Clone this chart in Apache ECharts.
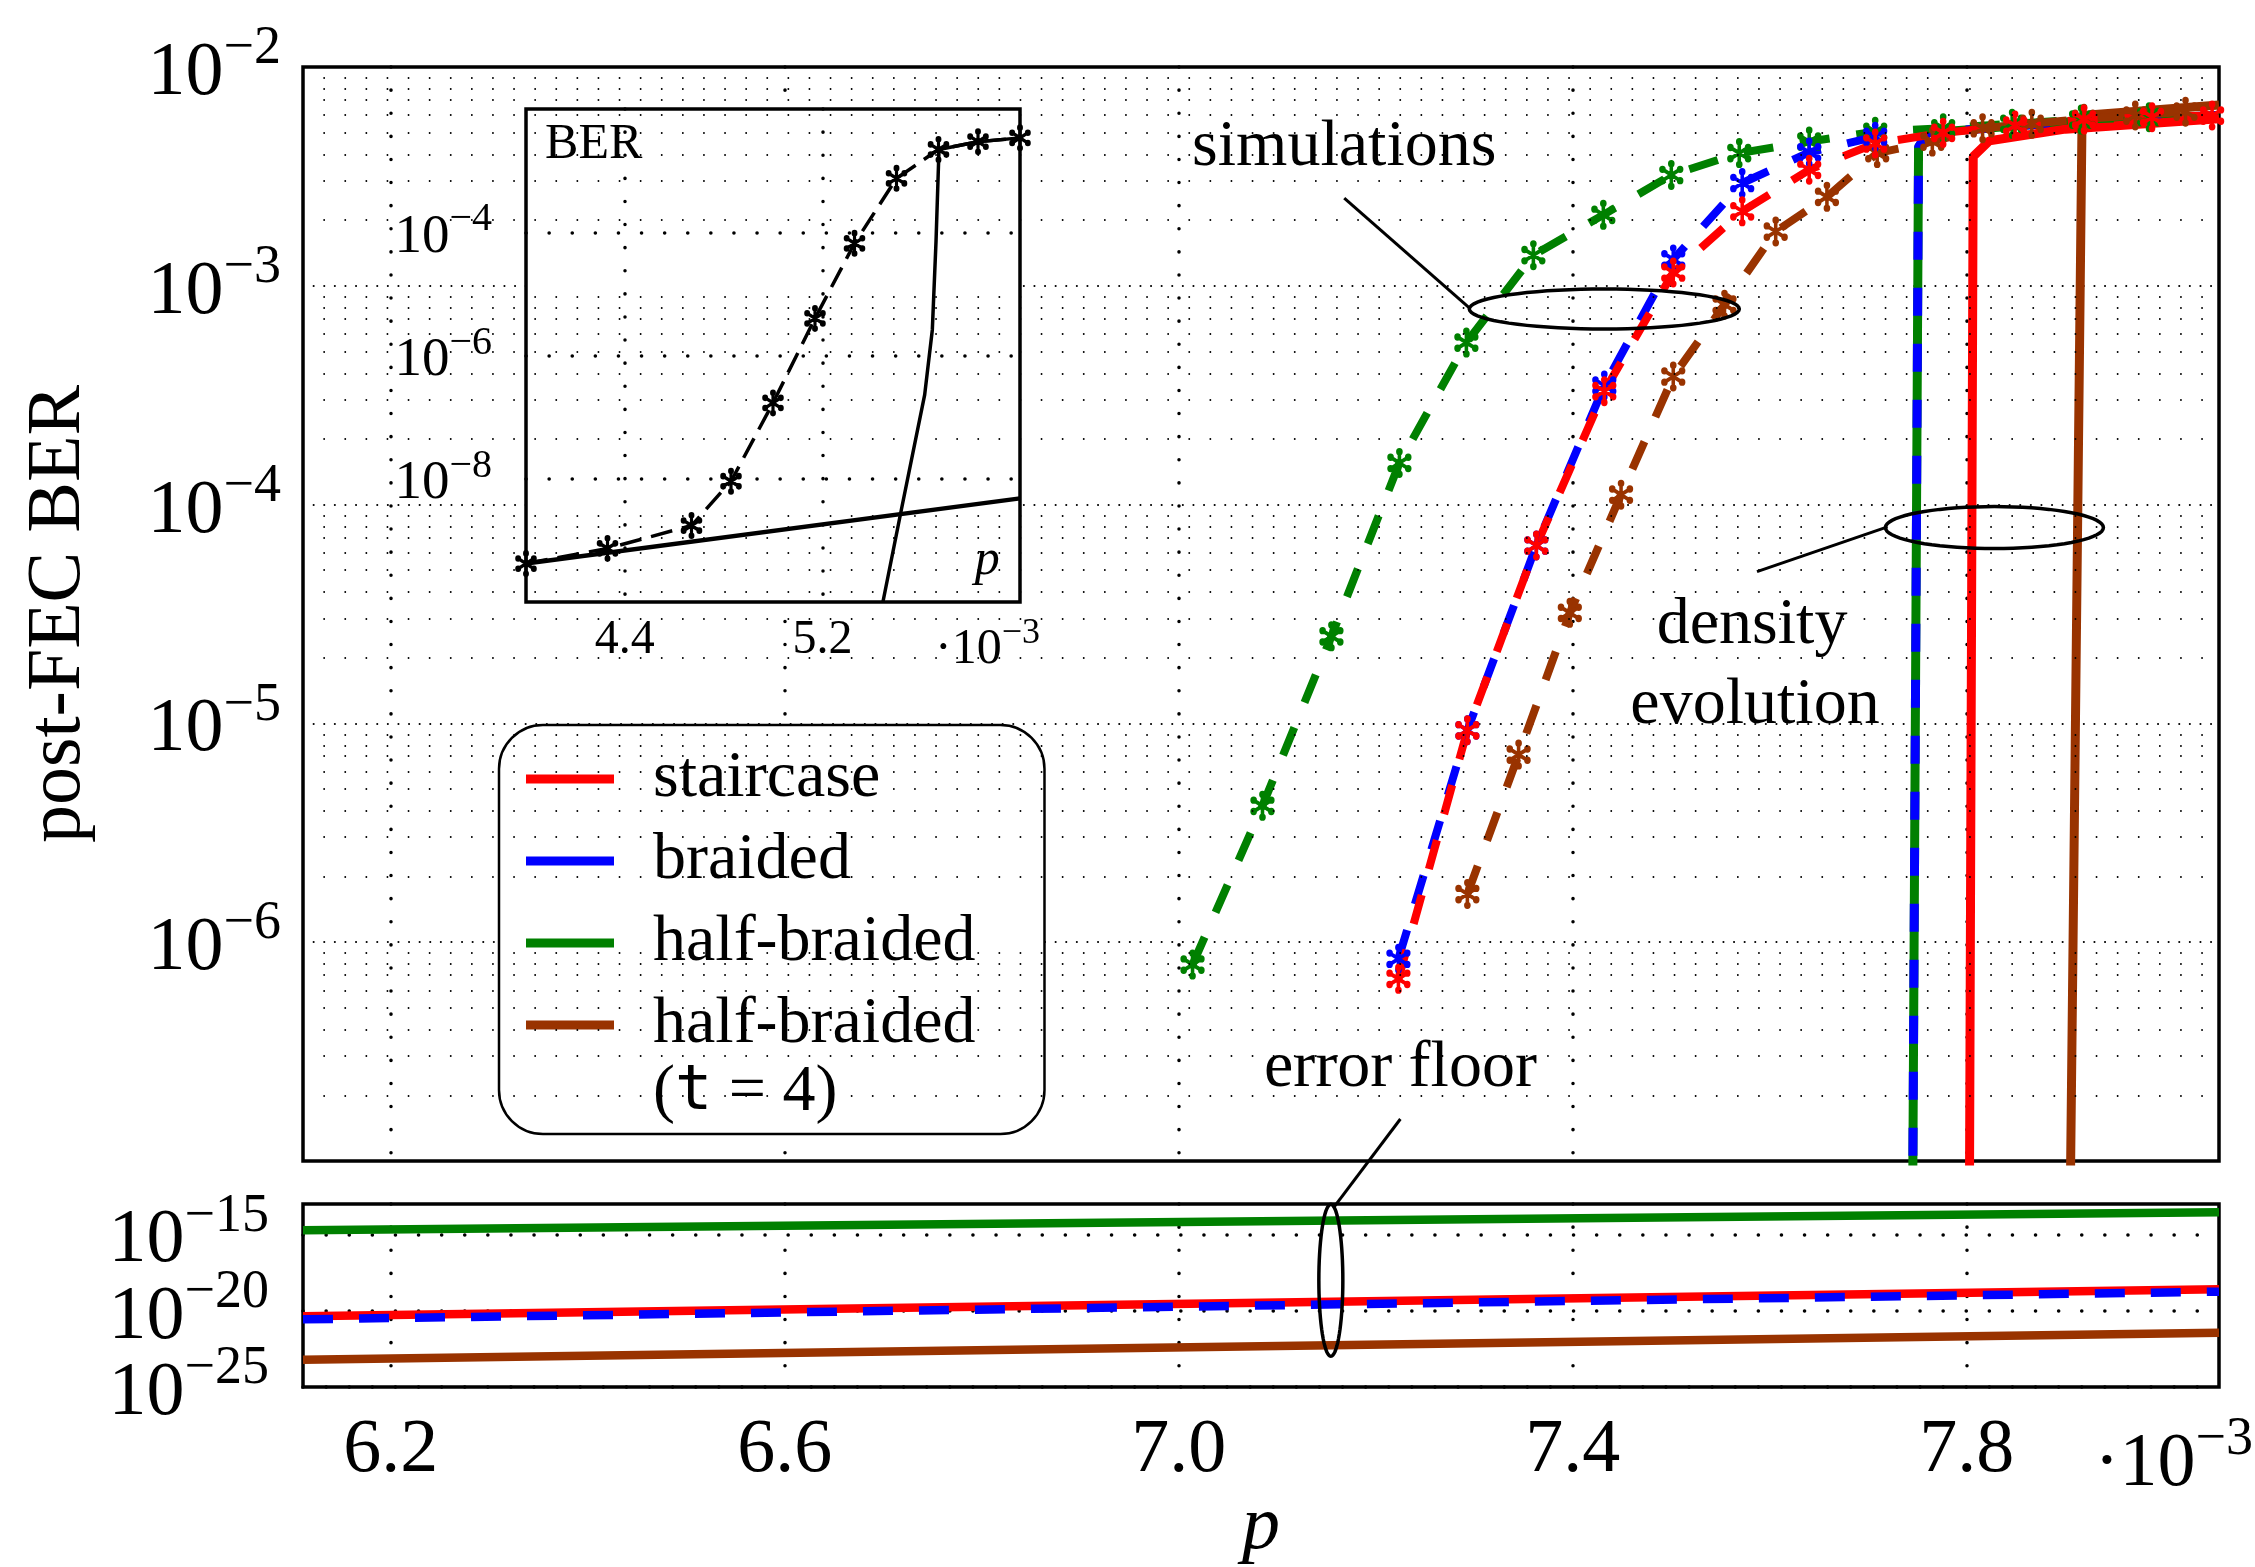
<!DOCTYPE html>
<html>
<head>
<meta charset="utf-8">
<script src="https://cdn.jsdelivr.net/npm/echarts@6.0.0/dist/echarts.min.js"></script>
<style>
  html, body { margin: 0; padding: 0; background: #fff; }
  #chart { width: 2255px; height: 1567px; }
</style>
</head>
<body>
<div id="chart"></div>
<script>
const halfSimP = [7.014, 7.085, 7.155, 7.224, 7.292, 7.360, 7.431, 7.500, 7.569, 7.640, 7.707, 7.776, 7.846, 7.916, 7.985]
const halfSimBer = [7.9e-7, 4.2e-6, 2.5e-5, 1.55e-4, 5.5e-4, 1.38e-3, 2.11e-3, 3.21e-3, 4.04e-3, 4.56e-3, 5.06e-3, 5.25e-3, 5.5e-3, 5.75e-3, 5.9e-3]

const stairSimP = [7.223, 7.293, 7.363, 7.432, 7.502, 7.572, 7.640, 7.707, 7.776, 7.849, 7.919, 7.988, 8.049]
const stairSimBer = [6.8e-7, 9.3e-6, 6.5e-5, 3.3e-4, 1.15e-3, 2.19e-3, 3.39e-3, 4.47e-3, 5.0e-3, 5.4e-3, 5.75e-3, 5.9e-3, 6.0e-3]

const braidSimP = [7.223, 7.293, 7.363, 7.432, 7.502, 7.572, 7.640, 7.707]
const braidSimBer = [8.4e-7, 9.3e-6, 6.5e-5, 3.5e-4, 1.32e-3, 2.95e-3, 4.07e-3, 4.8e-3]

const halfT4SimP = [7.293, 7.345, 7.397, 7.449, 7.502, 7.554, 7.606, 7.658, 7.709, 7.765, 7.816, 7.866, 7.919, 7.971, 8.022]
const halfT4SimBer = [1.66e-6, 7.2e-6, 3.2e-5, 1.11e-4, 3.85e-4, 8.2e-4, 1.77e-3, 2.55e-3, 4.04e-3, 4.56e-3, 5.25e-3, 5.5e-3, 5.8e-3, 6.0e-3, 6.25e-3]

// density evolution (first point sits below the axis and gets clipped)
const halfDeP = [7.744, 7.751, 7.760, 7.900, 8.056]
const halfDeBer = [1e-8, 4.3e-3, 5.0e-3, 5.6e-3, 6.0e-3]
const braidDeP = [7.744, 7.751, 7.760, 7.900, 8.056]
const braidDeBer = [1e-8, 4.3e-3, 5.0e-3, 5.6e-3, 6.0e-3]
const stairDeP = [7.802, 7.8065, 7.823, 7.900, 8.056]
const stairDeBer = [1e-8, 3.9e-3, 4.6e-3, 5.2e-3, 5.8e-3]
const halfT4DeP = [7.903, 7.917, 8.056]
const halfT4DeBer = [1e-8, 6.0e-3, 6.7e-3]

// error floor (lower panel)
const floorP = [6.111, 8.056]
const halfFloorBer = [1.9e-15, 2.9e-14]
const stairFloorBer = [4.4e-21, 2.6e-19]
const braidFloorBer = [2.75e-21, 1.8e-19]
const halfT4FloorBer = [6.2e-24, 3.6e-22]

// inset
const insetSimP = [4.0, 4.33, 4.67, 4.83, 5.0, 5.17, 5.33, 5.5, 5.67, 5.83, 6.0]
const insetSimBer = [4.2e-10, 7.4e-10, 1.74e-9, 9.1e-9, 1.7e-7, 4.0e-6, 6.6e-5, 7.5e-4, 2.2e-3, 2.95e-3, 3.4e-3]
const insetDeP = [5.445, 5.52, 5.614, 5.645, 5.66, 5.672, 5.83, 6.0]
const insetDeBer = [1e-10, 3.2e-9, 2.3e-7, 2.6e-6, 7.1e-5, 2.2e-3, 2.95e-3, 3.4e-3]
const insetFloorP = [4.0, 6.0]
const insetFloorBer = [4.2e-10, 4.8e-9]

// ticks (y ticks are decades)
const mainXTicks = [6.2, 6.6, 7.0, 7.4, 7.8]
const floorYTicks = [-25, -20, -15]
const insetXTicks = [4.4, 5.2]
const insetYTicks = [-8, -6, -4]

const RED = '#ff0000', BLUE = '#0000ff', GREEN = '#008000', BROWN = '#993300'
const SERIF = 'Liberation Serif, DejaVu Serif, serif'

// asterisk marker like the pgf '*' mark
function asteriskPath() {
  let d = ''
  const L = 8, w = 1.4, r = 2.6
  for (let k = 0; k < 3; k++) {
    const a = k * Math.PI / 3, c = Math.cos(a), s = Math.sin(a)
    const pts = [[-w, -L], [w, -L], [w, L], [-w, L]].map(([x, y]) => [x * c - y * s, x * s + y * c])
    d += 'M' + pts.map(p => p[0].toFixed(3) + ' ' + p[1].toFixed(3)).join(' L') + ' Z '
    for (const sg of [-1, 1]) {
      const cx = -sg * L * s, cy = sg * L * c
      d += `M${(cx - r).toFixed(3)} ${cy.toFixed(3)} A${r} ${r} 0 1 1 ${(cx + r).toFixed(3)} ${cy.toFixed(3)} A${r} ${r} 0 1 1 ${(cx - r).toFixed(3)} ${cy.toFixed(3)} Z `
    }
  }
  return 'path://' + d
}
const STAR = asteriskPath()

const toPairs = (xs, bers) => xs.map((x, i) => [x, Math.log10(bers[i])])

const bigDots = { color: '#000', width: 3.5, type: [0.1, 23], cap: 'round' }
const fineDots = { color: '#000', width: 2, type: [0.1, 10.5], cap: 'round' }
const minorDots = { color: '#000', width: 1.8, type: [0.1, 21], cap: 'round' }

// minor log grid lines of the main panel
const minorY = []
for (let d = -7; d < -2; d++) {
  for (let k = 2; k <= 9; k++) minorY.push({ yAxis: d + Math.log10(k) })
}

const expRich = (big, small, lift) => ({
  b: { fontSize: big, fontFamily: SERIF, color: '#000', fill: '#000', padding: [lift, 0, 0, 0], verticalAlign: 'bottom' },
  e: { fontSize: small, fontFamily: SERIF, color: '#000', fill: '#000', verticalAlign: 'top' }
})
const expLabel = v => '{b|10}{e|\u2212' + Math.round(-v) + '}'

function sim(name, xs, ys, color) {
  return {
    name, type: 'line', xAxisIndex: 0, yAxisIndex: 0, data: toPairs(xs, ys),
    color, symbol: STAR, symbolSize: [27, 30], symbolKeepAspect: true,
    itemStyle: { color }, lineStyle: { color, width: 8, type: [30, 27] },
    z: 3, silent: true, animation: false
  }
}
function solid(name, xs, ys, color, grid, dash, width) {
  return {
    name, type: 'line', xAxisIndex: grid, yAxisIndex: grid, data: toPairs(xs, ys),
    color, showSymbol: false, symbol: 'none',
    lineStyle: { color, width: width || 9, type: dash || 'solid' },
    z: 2, silent: true, animation: false
  }
}

const chart = echarts.init(document.getElementById('chart'), null, { renderer: 'canvas' })

const option = {
  backgroundColor: '#fff',
  animation: false,
  grid: [
    { left: 303, top: 67, width: 1916, height: 1094, show: true, borderColor: '#000', borderWidth: 3.5, backgroundColor: 'transparent' },
    { left: 303, top: 1204, width: 1916, height: 192, show: true, borderColor: '#000', borderWidth: 3.5, backgroundColor: 'transparent' },
    { left: 526, top: 109, width: 494, height: 493, show: true, borderColor: '#000', borderWidth: 3.5, backgroundColor: '#fff', z: 5 }
  ],
  xAxis: [
    {
      gridIndex: 0, type: 'value', min: 6.111, max: 8.056,
      axisLine: { show: false }, axisTick: { show: false, customValues: mainXTicks },
      axisLabel: { show: false, customValues: mainXTicks },
      splitLine: { show: true, lineStyle: bigDots }
    },
    {
      gridIndex: 1, type: 'value', min: 6.111, max: 8.056,
      axisLine: { show: false }, axisTick: { show: false, customValues: mainXTicks },
      axisLabel: {
        customValues: mainXTicks, formatter: v => v.toFixed(1),
        fontSize: 76, fontFamily: SERIF, color: '#000', margin: 26
      },
      splitLine: { show: true, lineStyle: bigDots },
      name: 'p', nameLocation: 'middle', nameGap: 85,
      nameTextStyle: { fontSize: 76, fontFamily: SERIF, fontStyle: 'italic', color: '#000' }
    },
    {
      gridIndex: 2, type: 'value', min: 4, max: 6, z: 8,
      axisLine: { show: false }, axisTick: { show: false, customValues: insetXTicks },
      axisLabel: {
        customValues: insetXTicks, formatter: v => v.toFixed(1),
        fontSize: 48, fontFamily: SERIF, color: '#000', margin: 14
      },
      splitLine: { show: true, lineStyle: bigDots }
    }
  ],
  yAxis: [
    {
      gridIndex: 0, type: 'value', min: -7, max: -2, interval: 1,
      axisLine: { show: false }, axisTick: { show: false },
      axisLabel: { formatter: v => (v <= -7 ? '' : expLabel(v)), margin: 22, rich: expRich(76, 54, 14) },
      splitLine: { show: true, lineStyle: fineDots },
      name: 'post-FEC BER', nameLocation: 'middle', nameGap: 206,
      nameTextStyle: { fontSize: 76, fontFamily: SERIF, color: '#000' }
    },
    {
      // labels of this crowded axis are drawn below as graphic texts
      gridIndex: 1, type: 'value', min: -25, max: -13,
      axisLine: { show: false }, axisTick: { show: false, customValues: floorYTicks },
      axisLabel: { show: false, customValues: floorYTicks },
      splitLine: { show: true, lineStyle: bigDots }
    },
    {
      gridIndex: 2, type: 'value', min: -10, max: -2, z: 8,
      axisLine: { show: false }, axisTick: { show: false, customValues: insetYTicks },
      axisLabel: {
        customValues: insetYTicks, formatter: expLabel, margin: 34, rich: expRich(55, 40, 10),
        showMinLabel: true, showMaxLabel: true
      },
      splitLine: { show: true, lineStyle: bigDots }
    }
  ],
  legend: {
    orient: 'vertical', left: 499, top: 725, padding: [19, 69, 74, 27],
    itemWidth: 88, itemHeight: 9, itemGap: 12, icon: 'rect',
    backgroundColor: '#fff', borderColor: '#000', borderWidth: 2.5, borderRadius: 44,
    selectedMode: false,
    textStyle: { fontSize: 66, fontFamily: SERIF, color: '#000', lineHeight: 70, padding: [0, 0, 0, 34] },
    data: [
      { name: 'staircase', itemStyle: { color: RED, borderWidth: 0 } },
      { name: 'braided', itemStyle: { color: BLUE, borderWidth: 0 } },
      { name: 'half-braided', itemStyle: { color: GREEN, borderWidth: 0 } },
      { name: 'half-braided (t=4)', itemStyle: { color: BROWN, borderWidth: 0 } }
    ],
    formatter: n => (n === 'half-braided (t=4)' ? 'half-braided' : n)
  },
  series: [
    // main panel: grid dots for the minor decades
    {
      name: 'minor grid', type: 'line', xAxisIndex: 0, yAxisIndex: 0, data: [], silent: true,
      markLine: { silent: true, symbol: ['none', 'none'], label: { show: false }, lineStyle: minorDots, data: minorY, animation: false }
    },
    // density evolution
    solid('half-braided', halfDeP, halfDeBer, GREEN, 0),
    solid('braided', braidDeP, braidDeBer, BLUE, 0, [28, 28]),
    solid('staircase', stairDeP, stairDeBer, RED, 0),
    solid('half-braided (t=4)', halfT4DeP, halfT4DeBer, BROWN, 0),
    // simulations
    sim('half-braided', halfSimP, halfSimBer, GREEN),
    sim('half-braided (t=4)', halfT4SimP, halfT4SimBer, BROWN),
    sim('braided', braidSimP, braidSimBer, BLUE),
    sim('staircase', stairSimP, stairSimBer, RED),
    // error floor
    solid('half-braided', floorP, halfFloorBer, GREEN, 1, null, 8.5),
    solid('staircase', floorP, stairFloorBer, RED, 1, null, 8.5),
    solid('braided', floorP, braidFloorBer, BLUE, 1, [30, 26], 8.5),
    solid('half-braided (t=4)', floorP, halfT4FloorBer, BROWN, 1, null, 8.5),
    // inset
    {
      name: 'inset floor', type: 'line', xAxisIndex: 2, yAxisIndex: 2, data: toPairs(insetFloorP, insetFloorBer),
      showSymbol: false, symbol: 'none', lineStyle: { color: '#000', width: 4.5 }, z: 10, silent: true
    },
    {
      name: 'inset DE', type: 'line', xAxisIndex: 2, yAxisIndex: 2, data: toPairs(insetDeP, insetDeBer),
      showSymbol: false, symbol: 'none', lineStyle: { color: '#000', width: 3.5 }, z: 10, silent: true
    },
    {
      name: 'inset sim', type: 'line', xAxisIndex: 2, yAxisIndex: 2, data: toPairs(insetSimP, insetSimBer),
      symbol: STAR, symbolSize: [24, 27], symbolKeepAspect: true, itemStyle: { color: '#000' },
      lineStyle: { color: '#000', width: 3.5, type: [22, 10] }, z: 11, silent: true
    }
  ]
}
chart.setOption(option)

// annotations, anchored in data coordinates of the panels
const px = (g, x, y) => chart.convertToPixel({ gridIndex: g }, [x, y])

function ellipse(g, x, y, rx, ry) {
  const c = px(g, x, y)
  const pts = []
  for (let i = 0; i <= 72; i++) {
    const t = i / 72 * Math.PI * 2
    pts.push([c[0] + rx * Math.cos(t), c[1] + ry * Math.sin(t)])
  }
  return { type: 'polygon', z: 20, silent: true, shape: { points: pts }, style: { fill: 'none', stroke: '#000', lineWidth: 3.5 } }
}
function leader(a, b) {
  return { type: 'line', z: 20, silent: true, shape: { x1: a[0], y1: a[1], x2: b[0], y2: b[1] }, style: { stroke: '#000', lineWidth: 3 } }
}
function label(p, text, size, extra) {
  return {
    type: 'text', z: 20, silent: true, x: p[0], y: p[1],
    style: Object.assign({ text, fontSize: size, fontFamily: SERIF, fill: '#000', align: 'center', verticalAlign: 'middle' }, extra || {})
  }
}
function expText(x, y, text, rich, align) {
  return { type: 'text', z: 20, silent: true, x, y, style: { text, align: align || 'right', verticalAlign: 'middle', rich } }
}

const r0 = px(1, 8.056, -25)
const r2 = px(2, 6.0, -10)
const legendNote = {
  type: 'text', z: 20, silent: true, x: 653, y: 1093,
  style: {
    text: '{a|(}{t|t}{a| = 4)}', verticalAlign: 'middle', align: 'left',
    rich: {
      a: { fontSize: 66, fontFamily: SERIF, fill: '#000' },
      t: { fontSize: 62, fontFamily: 'DejaVu Sans Mono, monospace', fill: '#000' }
    }
  }
}

// lower panel tick labels
const floorLabels = floorYTicks.map(v => {
  const p = px(1, 6.111, v)
  return expText(p[0] - 34, p[1], expLabel(v), expRich(76, 54, 14))
})

chart.setOption({
  graphic: [
    label(px(0, 7.168, -2.370), 'simulations', 66),
    leader(px(0, 7.168, -2.599), px(0, 7.295, -3.101)),
    ellipse(0, 7.432, -3.106, 135, 20),
    label(px(0, 7.582, -4.555), 'density', 66),
    label(px(0, 7.585, -4.920), 'evolution', 66),
    leader(px(0, 7.587, -4.306), px(0, 7.7195, -4.102)),
    ellipse(0, 7.828, -4.105, 109, 21),
    label(px(0, 7.225, -6.580), 'error floor', 66),
    leader(px(0, 7.225, -6.808), px(1, 7.157, -13.25)),
    ellipse(1, 7.1544, -18.0, 12, 76),
    label(px(2, 4.274, -2.585), 'BER', 50),
    label(px(2, 5.867, -9.333), 'p', 50, { fontStyle: 'italic' }),
    legendNote,
    ...floorLabels,
    expText(r0[0] + 34, r0[1] + 71, '{b|\u00b710}{e|\u22123}', expRich(76, 54, 14)),
    expText(r2[0] + 20, r2[1] + 43, '{b|\u00b710}{e|\u22123}', expRich(50, 36, 9))
  ]
})
</script>
</body>
</html>
